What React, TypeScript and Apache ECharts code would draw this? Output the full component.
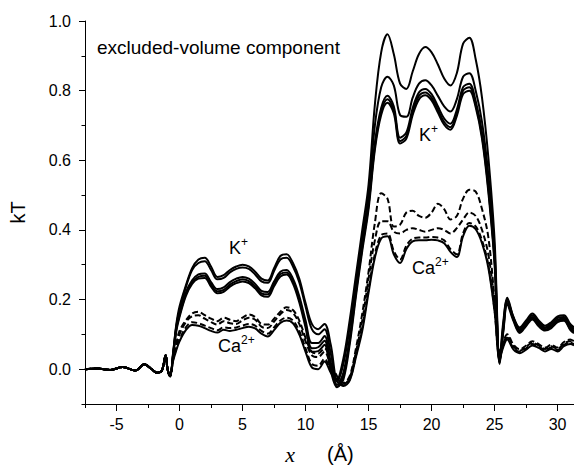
import React, { useEffect, useRef } from 'react';
import * as echarts from 'echarts';

// x positions (Å) shared by every curve
const X = [
  -7.5, -6.5, -5.5, -4.5, -3.5, -2.8, -2.2, -1.8, -1.4, -1.1, -0.95, -0.75,
  -0.5, -0.25, 0,
  0.5, 1, 1.5, 2, 2.5, 3, 3.5, 4, 4.5, 5,
  5.5, 6, 6.5, 7, 7.5, 8, 8.5, 9, 9.5, 10,
  10.5, 11, 11.5, 12, 12.5, 13, 13.5, 14, 14.5, 15,
  15.5, 16, 16.5, 17, 17.5, 18, 18.5, 19, 19.5, 20,
  20.5, 21, 21.5, 22, 22.5, 23, 23.5, 24, 24.5, 25,
  25.4, 25.7, 26,
  26.5, 27, 27.5, 28, 28.5, 29, 29.5, 30, 30.5, 31,
  31.3,
];

// K+ curves (solid)
const K1 = [
  0, 0.002, -0.002, 0.006, -0.004, 0.014, 0.0, -0.01, -0.004, 0.04, 0.0, -0.02,
  0.05, 0.13, 0.18,
  0.24, 0.29, 0.315, 0.32, 0.295, 0.265, 0.27, 0.285, 0.295, 0.30,
  0.295, 0.28, 0.26, 0.255, 0.29, 0.325, 0.33, 0.305, 0.26, 0.19,
  0.13, 0.115, 0.13, 0.07, -0.03, 0.03, 0.14, 0.27, 0.40, 0.53,
  0.76, 0.91, 0.962, 0.905, 0.82, 0.805, 0.855, 0.905, 0.925, 0.91,
  0.875, 0.835, 0.815, 0.85, 0.935, 0.952, 0.89, 0.78, 0.61, 0.37,
  0.03, 0.14, 0.205,
  0.15, 0.12, 0.14, 0.16, 0.14, 0.125, 0.135, 0.152, 0.155, 0.13,
  0.12,
];
const K2 = [
  0, 0.002, -0.002, 0.006, -0.004, 0.014, 0.0, -0.01, -0.004, 0.04, 0.0, -0.02,
  0.05, 0.125, 0.17,
  0.235, 0.285, 0.305, 0.31, 0.285, 0.258, 0.262, 0.278, 0.288, 0.292,
  0.288, 0.272, 0.252, 0.248, 0.282, 0.315, 0.32, 0.295, 0.25, 0.18,
  0.115, 0.10, 0.115, 0.045, -0.035, 0.015, 0.12, 0.25, 0.38, 0.50,
  0.70, 0.81, 0.84, 0.815, 0.73, 0.725, 0.78, 0.82, 0.83, 0.815,
  0.785, 0.755, 0.74, 0.775, 0.84, 0.85, 0.80, 0.71, 0.56, 0.34,
  0.025, 0.13, 0.2,
  0.148, 0.115, 0.135, 0.155, 0.135, 0.12, 0.13, 0.147, 0.15, 0.125,
  0.115,
];
const K3 = [
  0, 0.002, -0.002, 0.006, -0.004, 0.014, 0.0, -0.01, -0.004, 0.04, 0.0, -0.02,
  0.045, 0.12, 0.16,
  0.22, 0.255, 0.272, 0.275, 0.25, 0.23, 0.235, 0.25, 0.26, 0.265,
  0.26, 0.245, 0.225, 0.222, 0.252, 0.28, 0.285, 0.26, 0.21, 0.14,
  0.075, 0.075, 0.095, 0.02, -0.045, -0.01, 0.09, 0.23, 0.36, 0.48,
  0.65, 0.75, 0.785, 0.755, 0.665, 0.68, 0.75, 0.795, 0.805, 0.79,
  0.755, 0.72, 0.705, 0.745, 0.81, 0.82, 0.77, 0.68, 0.53, 0.32,
  0.02, 0.12, 0.195,
  0.145, 0.11, 0.13, 0.15, 0.13, 0.118, 0.125, 0.142, 0.145, 0.12,
  0.11,
];
const K4 = [
  0, 0.002, -0.002, 0.006, -0.004, 0.014, 0.0, -0.01, -0.004, 0.04, 0.0, -0.02,
  0.045, 0.115, 0.155,
  0.215, 0.25, 0.265, 0.268, 0.243, 0.224, 0.228, 0.243, 0.253, 0.258,
  0.253, 0.238, 0.218, 0.215, 0.245, 0.273, 0.278, 0.252, 0.2, 0.13,
  0.06, 0.063, 0.082, 0.005, -0.05, -0.02, 0.08, 0.22, 0.35, 0.47,
  0.64, 0.74, 0.775, 0.745, 0.655, 0.67, 0.74, 0.785, 0.795, 0.78,
  0.745, 0.71, 0.695, 0.735, 0.80, 0.81, 0.76, 0.67, 0.52, 0.31,
  0.018, 0.115, 0.19,
  0.142, 0.107, 0.127, 0.146, 0.126, 0.114, 0.121, 0.138, 0.142, 0.116,
  0.106,
];
const K5 = [
  0, 0.002, -0.002, 0.006, -0.004, 0.014, 0.0, -0.01, -0.004, 0.04, 0.0, -0.02,
  0.04, 0.11, 0.15,
  0.21, 0.245, 0.26, 0.262, 0.237, 0.218, 0.222, 0.237, 0.247, 0.252,
  0.247, 0.232, 0.212, 0.208, 0.238, 0.266, 0.272, 0.246, 0.192, 0.12,
  0.05, 0.052, 0.07, -0.005, -0.052, -0.03, 0.07, 0.21, 0.34, 0.46,
  0.63, 0.73, 0.765, 0.735, 0.648, 0.662, 0.73, 0.775, 0.787, 0.772,
  0.737, 0.702, 0.688, 0.727, 0.79, 0.80, 0.752, 0.662, 0.51, 0.30,
  0.015, 0.11, 0.185,
  0.138, 0.104, 0.124, 0.143, 0.123, 0.111, 0.118, 0.135, 0.139, 0.113,
  0.103,
];

// Ca2+ curves (C1–C3 dashed, C4 solid)
const C1 = [
  0, 0.002, -0.002, 0.006, -0.004, 0.014, 0.0, -0.01, -0.004, 0.04, 0.0, -0.02,
  0.035, 0.075, 0.11,
  0.14, 0.16, 0.165, 0.155, 0.145, 0.138, 0.148, 0.142, 0.138, 0.148,
  0.157, 0.15, 0.13, 0.128, 0.145, 0.165, 0.178, 0.17, 0.14, 0.09,
  0.05, 0.045, 0.06, 0.02, -0.02, -0.04, -0.02, 0.06, 0.16, 0.28,
  0.42, 0.505, 0.49, 0.41, 0.415, 0.45, 0.455, 0.44, 0.435, 0.45,
  0.475, 0.46, 0.43, 0.44, 0.49, 0.515, 0.51, 0.46, 0.38, 0.20,
  0.05, 0.08, 0.10,
  0.07, 0.057, 0.068, 0.08, 0.072, 0.062, 0.07, 0.062, 0.078, 0.085,
  0.08,
];
const C2 = [
  0, 0.002, -0.002, 0.006, -0.004, 0.014, 0.0, -0.01, -0.004, 0.04, 0.0, -0.02,
  0.03, 0.07, 0.10,
  0.135, 0.152, 0.155, 0.145, 0.135, 0.128, 0.138, 0.132, 0.13, 0.14,
  0.148, 0.142, 0.122, 0.118, 0.137, 0.158, 0.17, 0.162, 0.13, 0.08,
  0.04, 0.035, 0.05, 0.01, -0.025, -0.043, -0.025, 0.05, 0.14, 0.26,
  0.37, 0.425, 0.425, 0.395, 0.39, 0.40, 0.405, 0.40, 0.395, 0.40,
  0.405, 0.40, 0.39, 0.405, 0.43, 0.45, 0.44, 0.40, 0.33, 0.19,
  0.04, 0.075, 0.095,
  0.065, 0.053, 0.064, 0.076, 0.068, 0.058, 0.066, 0.058, 0.074, 0.08,
  0.076,
];
const C3 = [
  0, 0.002, -0.002, 0.006, -0.004, 0.014, 0.0, -0.01, -0.004, 0.04, 0.0, -0.02,
  0.03, 0.06, 0.085,
  0.12, 0.135, 0.132, 0.125, 0.118, 0.112, 0.12, 0.118, 0.12, 0.125,
  0.13, 0.125, 0.11, 0.102, 0.12, 0.14, 0.148, 0.14, 0.11, 0.06,
  0.015, 0.01, 0.03, -0.005, -0.03, -0.046, -0.03, 0.04, 0.12, 0.23,
  0.33, 0.385, 0.39, 0.34, 0.315, 0.355, 0.375, 0.378, 0.378, 0.38,
  0.378, 0.37, 0.345, 0.33, 0.39, 0.42, 0.41, 0.37, 0.30, 0.17,
  0.035, 0.07, 0.09,
  0.06, 0.05, 0.06, 0.072, 0.065, 0.055, 0.062, 0.055, 0.07, 0.076,
  0.072,
];
const C4 = [
  0, 0.002, -0.002, 0.006, -0.004, 0.014, 0.0, -0.01, -0.004, 0.04, 0.0, -0.02,
  0.025, 0.055, 0.08,
  0.112, 0.127, 0.125, 0.118, 0.11, 0.105, 0.113, 0.11, 0.113, 0.118,
  0.122, 0.117, 0.102, 0.094, 0.112, 0.133, 0.14, 0.132, 0.10, 0.05,
  0.005, 0.0, 0.022, -0.01, -0.035, -0.048, -0.033, 0.035, 0.11, 0.22,
  0.32, 0.375, 0.382, 0.33, 0.305, 0.345, 0.367, 0.37, 0.37, 0.372,
  0.37, 0.362, 0.337, 0.322, 0.382, 0.412, 0.402, 0.362, 0.292, 0.165,
  0.03, 0.065, 0.085,
  0.056, 0.046, 0.056, 0.068, 0.061, 0.051, 0.058, 0.051, 0.066, 0.072,
  0.068,
];

const X_MAJOR = [-5, 0, 5, 10, 15, 20, 25, 30];
const X_MINOR = [-7.5, -2.5, 2.5, 7.5, 12.5, 17.5, 22.5, 27.5];
const Y_MAJOR = [0, 0.2, 0.4, 0.6, 0.8, 1.0];
const Y_MINOR = [-0.1, 0.1, 0.3, 0.5, 0.7, 0.9];

const SANS = 'Liberation Sans, Arial, sans-serif';

export default function App() {
  const ref = useRef<HTMLDivElement>(null);

  useEffect(() => {
    document.body.style.margin = '0';
    if (!ref.current) return;
    const chart = echarts.init(ref.current, null, { renderer: 'svg' });

    const mk = (ys: number[], type: 'solid' | 'dashed', name: string) => ({
      type: 'line',
      name,
      data: X.map((x, j) => [x, ys[j]]),
      smooth: 0.35,
      showSymbol: false,
      symbol: 'none',
      xAxisIndex: 0,
      yAxisIndex: 0,
      lineStyle: {
        color: '#000',
        width: 2,
        type: type === 'dashed' ? [6, 3] : 'solid',
      },
      z: 3,
    });

    const axisLine = { show: true, onZero: false, lineStyle: { color: '#000', width: 1 } };
    const label = { color: '#000', fontSize: 16, fontFamily: SANS };

    const supRich = {
      a: { fontSize: 18, fontFamily: SANS, fill: '#000' },
      s: { fontSize: 12, fontFamily: SANS, fill: '#000', padding: [0, 0, 11, 0] },
    };

    chart.setOption({
      animation: false,
      backgroundColor: '#fff',
      grid: { left: 83, right: 0, top: 21, bottom: 66 },
      xAxis: [
        {
          type: 'value',
          position: 'bottom',
          min: -7.5,
          max: 31.3,
          axisLine,
          axisTick: {
            show: true,
            customValues: X_MAJOR,
            length: 7,
            lineStyle: { color: '#000', width: 1 },
          },
          axisLabel: { ...label, customValues: X_MAJOR, margin: 12 },
          splitLine: { show: false },
          name: '{i|x}{g|}(Å){h|}',
          nameLocation: 'middle',
          nameGap: 39,
          nameTextStyle: {
            color: '#000',
            fontSize: 20,
            fontFamily: SANS,
            rich: {
              i: { fontSize: 22, fontFamily: 'Liberation Serif, serif', fontStyle: 'italic', color: '#000' },
              g: { width: 32 },
              h: { width: 20 },
            },
          },
        },
        {
          type: 'value',
          position: 'bottom',
          min: -7.5,
          max: 31.3,
          axisLine: { show: false, onZero: false },
          axisTick: {
            show: true,
            customValues: X_MINOR,
            length: 4,
            lineStyle: { color: '#000', width: 1 },
          },
          axisLabel: { show: false },
          splitLine: { show: false },
        },
      ],
      yAxis: [
        {
          type: 'value',
          position: 'left',
          min: -0.1,
          max: 1.0,
          axisLine,
          axisTick: {
            show: true,
            customValues: Y_MAJOR,
            length: 6,
            lineStyle: { color: '#000', width: 1 },
          },
          axisLabel: {
            ...label,
            customValues: Y_MAJOR,
            margin: 14,
            formatter: (v: number) => v.toFixed(1),
          },
          splitLine: { show: false },
          name: 'kT',
          nameLocation: 'middle',
          nameGap: 57,
          nameTextStyle: { color: '#000', fontSize: 20, fontFamily: SANS },
        },
        {
          type: 'value',
          position: 'left',
          min: -0.1,
          max: 1.0,
          axisLine: { show: false, onZero: false },
          axisTick: {
            show: true,
            customValues: Y_MINOR,
            length: 3.5,
            lineStyle: { color: '#000', width: 1 },
          },
          axisLabel: { show: false },
          splitLine: { show: false },
        },
      ],
      graphic: [
        {
          type: 'text',
          x: 97,
          y: 47,
          style: {
            text: 'excluded-volume component',
            fill: '#000',
            fontSize: 19,
            fontFamily: SANS,
            verticalAlign: 'middle',
          },
        },
        {
          type: 'text',
          x: 229,
          y: 236,
          style: { text: '{a|K}{s|+}', rich: supRich },
        },
        {
          type: 'text',
          x: 419,
          y: 123,
          style: { text: '{a|K}{s|+}', rich: supRich },
        },
        {
          type: 'text',
          x: 218,
          y: 334,
          style: { text: '{a|Ca}{s|2+}', rich: supRich },
        },
        {
          type: 'text',
          x: 412,
          y: 256,
          style: { text: '{a|Ca}{s|2+}', rich: supRich },
        },
      ],
      series: [
        mk(C1, 'dashed', 'Ca1'),
        mk(C2, 'dashed', 'Ca2'),
        mk(C3, 'dashed', 'Ca3'),
        mk(C4, 'solid', 'Ca4'),
        mk(K1, 'solid', 'K1'),
        mk(K2, 'solid', 'K2'),
        mk(K3, 'solid', 'K3'),
        mk(K4, 'solid', 'K4'),
        mk(K5, 'solid', 'K5'),
      ],
    });

    return () => chart.dispose();
  }, []);

  return <div ref={ref} style={{ width: 574, height: 470 }} />;
}
